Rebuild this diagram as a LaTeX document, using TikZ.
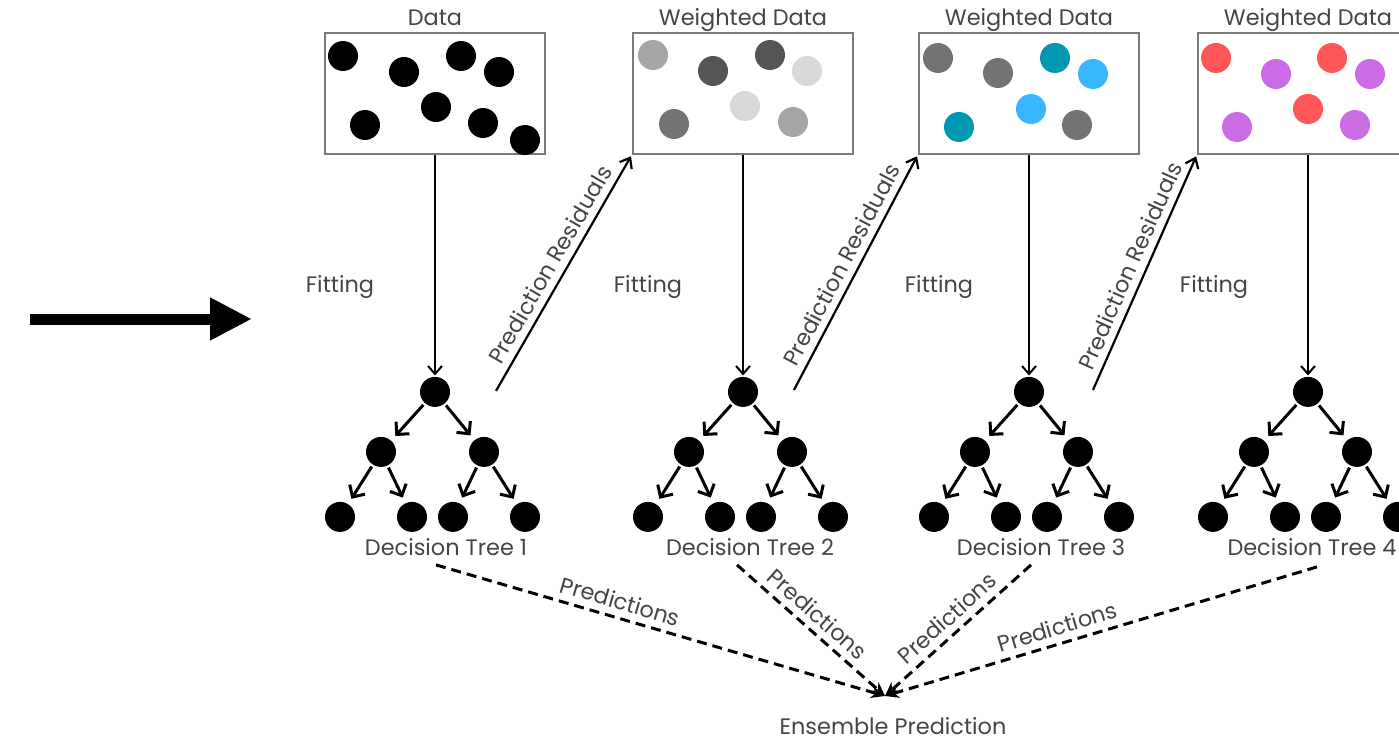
\documentclass[tikz,border=0pt]{standalone}
\usepackage{fontspec}
\setmainfont{Poppins}
\usetikzlibrary{arrows.meta,positioning}
\definecolor{txtgray}{HTML}{444444}
\definecolor{boxgray}{HTML}{7a7a7a}
\definecolor{lgray}{HTML}{a6a6a6}
\definecolor{dgray}{HTML}{555555}
\definecolor{vlgray}{HTML}{d9d9d9}
\definecolor{mgray}{HTML}{737373}
\definecolor{teal}{HTML}{0097b2}
\definecolor{skyblue}{HTML}{38b6ff}
\definecolor{coral}{HTML}{ff5757}
\definecolor{violet}{HTML}{cb6ce6}

\tikzset{
  databox/.style={draw=boxgray, line width=1pt, minimum width=110pt, minimum height=60.5pt, inner sep=0pt},
  blob/.style={circle, fill=black, minimum size=15pt, inner sep=0pt},
  lbl/.style={text=txtgray, font=\fontsize{11.2}{13}\selectfont},
  title/.style={lbl, text height=1.6ex, text depth=0.4ex, inner sep=2pt},
  fitarrow/.style={line width=1pt, -{Straight Barb[length=4pt,width=7pt]}, shorten >=0.5pt},
  treearrow/.style={line width=1.5pt, -{Straight Barb[length=4.5pt,width=9pt]}, shorten >=3pt, shorten <=1pt},
  resarrow/.style={line width=1.1pt, -{Straight Barb[length=4.5pt,width=7pt]}, shorten >=1pt},
  predline/.style={line width=1.5pt, dash pattern=on 5pt off 3pt, -{Stealth[length=7pt,width=6pt]}},
}

\begin{document}
\begin{tikzpicture}[x=0.5pt, y=-0.5pt]
	\useasboundingbox (0,0) rectangle (1399,744);

	% data boxes
	\node[databox] (b1) at (435,93) {};
	\node[databox, right=43pt of b1] (b2) {};
	\node[databox, right=32pt of b2] (b3) {};
	\node[databox, right=28.5pt of b3] (b4) {};
	\node[title, above=-1.5pt of b1] (h1) {Data};
	\node[title, above=-1.5pt of b2] (h2) {Weighted Data};
	\node[title, above=-1.5pt of b3] (h3) {Weighted Data};
	\node[title, above=-1.5pt of b4] (h4) {Weighted Data};

	% points in the boxes
	\fill[black] (343,56) circle[radius=7.5pt];
	\fill[black] (404,72) circle[radius=7.5pt];
	\fill[black] (461,56) circle[radius=7.5pt];
	\fill[black] (499,72) circle[radius=7.5pt];
	\fill[black] (436,107) circle[radius=7.5pt];
	\fill[black] (365,125) circle[radius=7.5pt];
	\fill[black] (483,123) circle[radius=7.5pt];
	\fill[black] (525,140) circle[radius=7.5pt];

	\fill[lgray] (653,55) circle[radius=7.5pt];
	\fill[dgray] (713,71) circle[radius=7.5pt];
	\fill[dgray] (770,55) circle[radius=7.5pt];
	\fill[vlgray] (807,71) circle[radius=7.5pt];
	\fill[vlgray] (745,106) circle[radius=7.5pt];
	\fill[mgray] (674,124) circle[radius=7.5pt];
	\fill[lgray] (793,122) circle[radius=7.5pt];

	\fill[mgray] (938,58) circle[radius=7.5pt];
	\fill[mgray] (998,73) circle[radius=7.5pt];
	\fill[teal] (1055,58) circle[radius=7.5pt];
	\fill[skyblue] (1093,74) circle[radius=7.5pt];
	\fill[skyblue] (1031,109) circle[radius=7.5pt];
	\fill[teal] (959,127) circle[radius=7.5pt];
	\fill[mgray] (1077,125) circle[radius=7.5pt];

	\fill[coral] (1216,58) circle[radius=7.5pt];
	\fill[violet] (1276,74) circle[radius=7.5pt];
	\fill[coral] (1332,58) circle[radius=7.5pt];
	\fill[violet] (1370,74) circle[radius=7.5pt];
	\fill[coral] (1308,109) circle[radius=7.5pt];
	\fill[violet] (1237,127) circle[radius=7.5pt];
	\fill[violet] (1355,125) circle[radius=7.5pt];

	% tree 1
	\node[blob, below=111pt of b1] (t1) {};
	\node[blob, on grid, below left=30pt and 27pt of t1] (t1l) {};
	\node[blob, on grid, below right=30pt and 24.5pt of t1] (t1r) {};
	\node[blob, on grid, below left=32.5pt and 20.5pt of t1l] (t1ll) {};
	\node[blob, on grid, below right=32.5pt and 15.5pt of t1l] (t1lr) {};
	\node[blob, on grid, below left=32.5pt and 15.5pt of t1r] (t1rl) {};
	\node[blob, on grid, below right=32.5pt and 20.5pt of t1r] (t1rr) {};
	\node[lbl] (n1) at ([shift={(11,155)}]t1) {Decision Tree 1};
	\node[lbl] (f1) at ([shift={(-95,-105)}]t1) {Fitting};

	% tree 2
	\node[blob, below=111pt of b2] (t2) {};
	\node[blob, on grid, below left=30pt and 27pt of t2] (t2l) {};
	\node[blob, on grid, below right=30pt and 24.5pt of t2] (t2r) {};
	\node[blob, on grid, below left=32.5pt and 20.5pt of t2l] (t2ll) {};
	\node[blob, on grid, below right=32.5pt and 15.5pt of t2l] (t2lr) {};
	\node[blob, on grid, below left=32.5pt and 15.5pt of t2r] (t2rl) {};
	\node[blob, on grid, below right=32.5pt and 20.5pt of t2r] (t2rr) {};
	\node[lbl] (n2) at ([shift={(7,155)}]t2) {Decision Tree 2};
	\node[lbl] (f2) at ([shift={(-95,-105)}]t2) {Fitting};

	% tree 3
	\node[blob, below=111pt of b3] (t3) {};
	\node[blob, on grid, below left=30pt and 27pt of t3] (t3l) {};
	\node[blob, on grid, below right=30pt and 24.5pt of t3] (t3r) {};
	\node[blob, on grid, below left=32.5pt and 20.5pt of t3l] (t3ll) {};
	\node[blob, on grid, below right=32.5pt and 15.5pt of t3l] (t3lr) {};
	\node[blob, on grid, below left=32.5pt and 15.5pt of t3r] (t3rl) {};
	\node[blob, on grid, below right=32.5pt and 20.5pt of t3r] (t3rr) {};
	\node[lbl] (n3) at ([shift={(12,155)}]t3) {Decision Tree 3};
	\node[lbl] (f3) at ([shift={(-90,-105)}]t3) {Fitting};

	% tree 4
	\node[blob, below=111pt of b4] (t4) {};
	\node[blob, on grid, below left=30pt and 27pt of t4] (t4l) {};
	\node[blob, on grid, below right=30pt and 24.5pt of t4] (t4r) {};
	\node[blob, on grid, below left=32.5pt and 20.5pt of t4l] (t4ll) {};
	\node[blob, on grid, below right=32.5pt and 15.5pt of t4l] (t4lr) {};
	\node[blob, on grid, below left=32.5pt and 15.5pt of t4r] (t4rl) {};
	\node[blob, on grid, below right=32.5pt and 20.5pt of t4r] (t4rr) {};
	\node[lbl] (n4) at ([shift={(4,155)}]t4) {Decision Tree 4};
	\node[lbl] (f4) at ([shift={(-94,-105)}]t4) {Fitting};

	\node[lbl] (ens) at (893,726) {Ensemble Prediction};

	% free ends
	\coordinate (a0) at (30,319);
	\coordinate (a1) at (252,319);
	\coordinate (r1) at ([shift={(61,-1)}]t1);
	\coordinate (r2) at ([shift={(51,-2)}]t2);
	\coordinate (r3) at ([shift={(64,-2)}]t3);
	\coordinate (p1) at ([shift={(1,173)}]t1);
	\coordinate (p2) at ([shift={(-6,173)}]t2);
	\coordinate (p3) at ([shift={(2,173)}]t3);
	\coordinate (p4) at ([shift={(9,175)}]t4);
	\coordinate (tip) at ([shift={(-8,-30)}]ens.center);

	\draw[line width=5.5pt, -{Triangle[length=21pt,width=20pt]}] (a0) -- (a1); % input

	\draw[fitarrow] (b1) -- (t1); % Fitting
	\draw[fitarrow] (b2) -- (t2); % Fitting
	\draw[fitarrow] (b3) -- (t3); % Fitting
	\draw[fitarrow] (b4) -- (t4); % Fitting

	\draw[treearrow] (t1) -- (t1l);
	\draw[treearrow] (t1) -- (t1r);
	\draw[treearrow] (t1l) -- (t1ll);
	\draw[treearrow] (t1l) -- (t1lr);
	\draw[treearrow] (t1r) -- (t1rl);
	\draw[treearrow] (t1r) -- (t1rr);

	\draw[treearrow] (t2) -- (t2l);
	\draw[treearrow] (t2) -- (t2r);
	\draw[treearrow] (t2l) -- (t2ll);
	\draw[treearrow] (t2l) -- (t2lr);
	\draw[treearrow] (t2r) -- (t2rl);
	\draw[treearrow] (t2r) -- (t2rr);

	\draw[treearrow] (t3) -- (t3l);
	\draw[treearrow] (t3) -- (t3r);
	\draw[treearrow] (t3l) -- (t3ll);
	\draw[treearrow] (t3l) -- (t3lr);
	\draw[treearrow] (t3r) -- (t3rl);
	\draw[treearrow] (t3r) -- (t3rr);

	\draw[treearrow] (t4) -- (t4l);
	\draw[treearrow] (t4) -- (t4r);
	\draw[treearrow] (t4l) -- (t4ll);
	\draw[treearrow] (t4l) -- (t4lr);
	\draw[treearrow] (t4r) -- (t4rl);
	\draw[treearrow] (t4r) -- (t4rr);

	\draw[resarrow] (r1) -- (b2.south west) node[lbl, midway, sloped, above] {Prediction Residuals}; % Residuals
	\draw[resarrow] (r2) -- (b3.south west) node[lbl, midway, sloped, above] {Prediction Residuals}; % Residuals
	\draw[resarrow] (r3) -- (b4.south west) node[lbl, midway, sloped, above] {Prediction Residuals}; % Residuals

	\draw[predline] (p1) -- (tip) node[lbl, pos=0.4, sloped, above] {Predictions}; % Predictions
	\draw[predline] (p2) -- (tip) node[lbl, pos=0.47, sloped, above] {Predictions}; % Predictions
	\draw[predline] (p3) -- (tip) node[lbl, pos=0.5, sloped, above] {Predictions}; % Predictions
	\draw[predline] (p4) -- (tip) node[lbl, pos=0.59, sloped, above] {Predictions}; % Predictions

\end{tikzpicture}
\end{document}
